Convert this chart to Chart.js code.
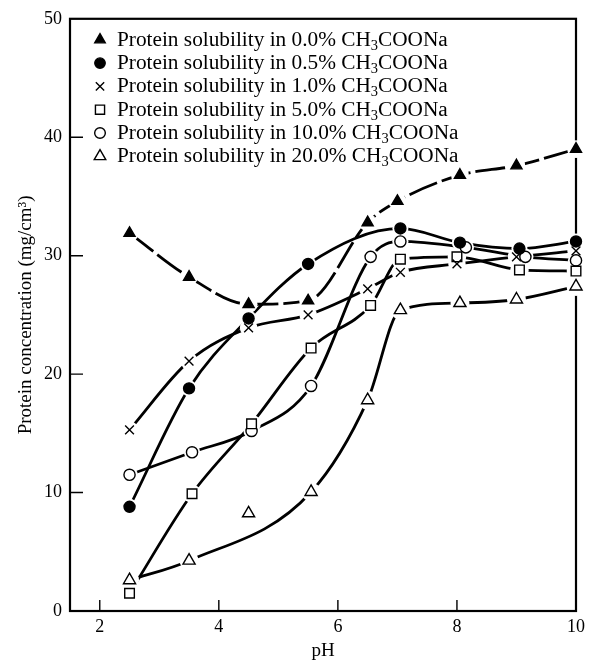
<!DOCTYPE html>
<html><head><meta charset="utf-8">
<script src="https://cdn.jsdelivr.net/npm/chart.js@4.4.1/dist/chart.umd.min.js"></script>
<style>html,body{margin:0;padding:0;background:#fff;}canvas{display:block;}</style>
</head><body>
<canvas id="c" width="590" height="662"></canvas>
<script>
// ---- data ----
const concLabels = ['0.0%', '0.5%', '1.0%', '5.0%', '10.0%', '20.0%'];
const pH_00 = [2.5, 3.5, 4.5, 5.5, 6.5, 7.0, 8.05, 9.0, 10.0];
const sol_00 = [31.9, 28.2, 25.9, 26.2, 32.8, 34.6, 36.8, 37.6, 39.0];
const pH_05 = [2.5, 3.5, 4.5, 5.5, 7.05, 8.05, 9.05, 10.0];
const sol_05 = [8.8, 18.8, 24.7, 29.3, 32.3, 31.1, 30.6, 31.2];
const pH_10 = [2.5, 3.5, 4.5, 5.5, 6.5, 7.05, 8.0, 9.0, 10.0];
const sol_10 = [15.3, 21.1, 23.9, 25.0, 27.2, 28.6, 29.3, 29.9, 30.4];
const pH_50 = [2.5, 3.55, 4.55, 5.55, 6.55, 7.05, 8.0, 9.05, 10.0];
const sol_50 = [1.5, 9.9, 15.8, 22.2, 25.8, 29.7, 29.9, 28.8, 28.7];
const pH_100 = [2.5, 3.55, 4.55, 5.55, 6.55, 7.05, 8.15, 9.15, 10.0];
const sol_100 = [11.5, 13.4, 15.2, 19.0, 29.9, 31.2, 30.7, 29.9, 29.6];
const pH_200 = [2.5, 3.5, 4.5, 5.55, 6.5, 7.05, 8.05, 9.0, 10.0];
const sol_200 = [2.6, 4.25, 8.25, 10.05, 17.8, 25.4, 26.0, 26.3, 27.4];
// indices of measured points that the drawn fit curve does not pass through
const offCurve = [[], [], [], [], [], [2]];
const xTicks = [2, 4, 6, 8, 10];
const yTicks = [0, 10, 20, 30, 40, 50];
const xTitle = 'pH';
const yTitle = 'Protein concentration (mg/cm\u00B3)';

const seriesX = [pH_00, pH_05, pH_10, pH_50, pH_100, pH_200];
const seriesY = [sol_00, sol_05, sol_10, sol_50, sol_100, sol_200];

// ---- styles ----
const FONT = '"Liberation Serif", "Times New Roman", serif';
const styles = [
  {ps: 'triangle', r: 6.4, fill: '#000', dash: [30, 5]},
  {ps: 'circle', r: 5.5, fill: '#000', dash: []},
  {ps: 'crossRot', r: 6.2, fill: '#000', dash: []},
  {ps: 'rect', r: 6.8, fill: '#fff', dash: []},
  {ps: 'circle', r: 5.6, fill: '#fff', dash: []},
  {ps: 'triangle', r: 7, fill: '#fff', dash: []}
];

const datasets = [];
seriesX.forEach((xs, i) => {
  const pts = xs.map((x, j) => ({x: x, y: seriesY[i][j]}));
  const curve = pts.filter((p, j) => !offCurve[i].includes(j));
  datasets.push({type: 'line', data: curve, borderColor: '#000', borderWidth: 2.8,
    borderDash: styles[i].dash, pointRadius: 0, cubicInterpolationMode: 'monotone',
    fill: false, order: 3, clip: false});
  datasets.push({type: 'scatter', data: pts, pointStyle: 'circle', pointRadius: styles[i].r + 2.5,
    pointBackgroundColor: '#fff', pointBorderColor: '#fff', pointBorderWidth: 0, order: 2, clip: false});
  datasets.push({type: 'scatter', data: pts, label: concLabels[i], pointStyle: styles[i].ps,
    pointRadius: styles[i].r, pointBackgroundColor: styles[i].fill, pointBorderColor: '#000',
    pointBorderWidth: 1.4, order: 1, clip: false});
});

function drawMarker(ctx, st, x, y, scale) {
  ctx.save();
  ctx.fillStyle = st.fill; ctx.strokeStyle = '#000'; ctx.lineWidth = 1.4;
  const opts = {pointStyle: st.ps, radius: st.r * scale, rotation: 0, borderWidth: 1.4};
  if (Chart.helpers && Chart.helpers.drawPoint) {
    Chart.helpers.drawPoint(ctx, opts, x, y);
  }
  ctx.restore();
}

const framePlugin = {
  id: 'frame',
  beforeDatasetsDraw(chart) {
    const {ctx, chartArea: a, scales} = chart;
    ctx.save();
    ctx.strokeStyle = '#000'; ctx.lineWidth = 2.2;
    ctx.strokeRect(a.left, a.top, a.right - a.left, a.bottom - a.top);
    ctx.lineWidth = 1.4;
    ctx.beginPath();
    xTicks.forEach(v => {
      const px = scales.x.getPixelForValue(v);
      if (px < a.right - 2) { ctx.moveTo(px, a.bottom); ctx.lineTo(px, a.bottom - 11); }
    });
    yTicks.forEach(v => {
      const py = scales.y.getPixelForValue(v);
      if (py > a.top + 2 && py < a.bottom - 2) { ctx.moveTo(a.left, py); ctx.lineTo(a.left + 13, py); }
    });
    ctx.stroke();
    ctx.restore();
  }
};

const legendPlugin = {
  id: 'customLegend',
  afterDraw(chart) {
    const {ctx, chartArea: a} = chart;
    const fs = 21.3;
    const x0 = a.left + 30, y0 = a.top + 21, dy = 23.3;
    ctx.save();
    ctx.fillStyle = '#000';
    ctx.textBaseline = 'alphabetic';
    concLabels.forEach((c, i) => {
      const y = y0 + i * dy;
      drawMarker(ctx, styles[i], x0, y, 0.95);
      let tx = x0 + 17;
      const base = y + 6;
      const p1 = 'Protein solubility in ' + c + ' CH';
      ctx.font = fs + 'px ' + FONT;
      ctx.fillText(p1, tx, base);
      tx += ctx.measureText(p1).width;
      ctx.font = (fs * 0.68) + 'px ' + FONT;
      ctx.fillText('3', tx, base + 4);
      tx += ctx.measureText('3').width;
      ctx.font = fs + 'px ' + FONT;
      ctx.fillText('COONa', tx, base);
    });
    ctx.restore();
  }
};

new Chart(document.getElementById('c'), {
  type: 'scatter',
  data: {datasets: datasets},
  options: {
    responsive: false, animation: false, devicePixelRatio: 1, events: [],
    layout: {padding: {left: 0, right: 13, top: 12, bottom: 0}},
    plugins: {legend: {display: false}, tooltip: {enabled: false}},
    scales: {
      x: {type: 'linear', min: 1.5, max: 10,
        afterBuildTicks: s => { s.ticks = xTicks.map(v => ({value: v})); },
        afterFit: s => { s.height = 51; },
        grid: {display: false, drawTicks: false}, border: {display: false},
        ticks: {font: {family: FONT, size: 18}, color: '#000', padding: 5, maxRotation: 0, autoSkip: false},
        title: {display: true, text: xTitle, color: '#000', font: {family: FONT, size: 19}, padding: {top: 0, bottom: 0}}
      },
      y: {type: 'linear', min: 0, max: 50,
        afterBuildTicks: s => { s.ticks = yTicks.map(v => ({value: v})); },
        afterFit: s => { s.width = 70; },
        grid: {display: false, drawTicks: false}, border: {display: false},
        ticks: {font: {family: FONT, size: 18}, color: '#000', padding: 8, autoSkip: false},
        title: {display: true, text: yTitle, color: '#000', font: {family: FONT, size: 19}, padding: {top: 15, bottom: 0}}
      }
    }
  },
  plugins: [framePlugin, legendPlugin]
});
</script>
</body></html>
